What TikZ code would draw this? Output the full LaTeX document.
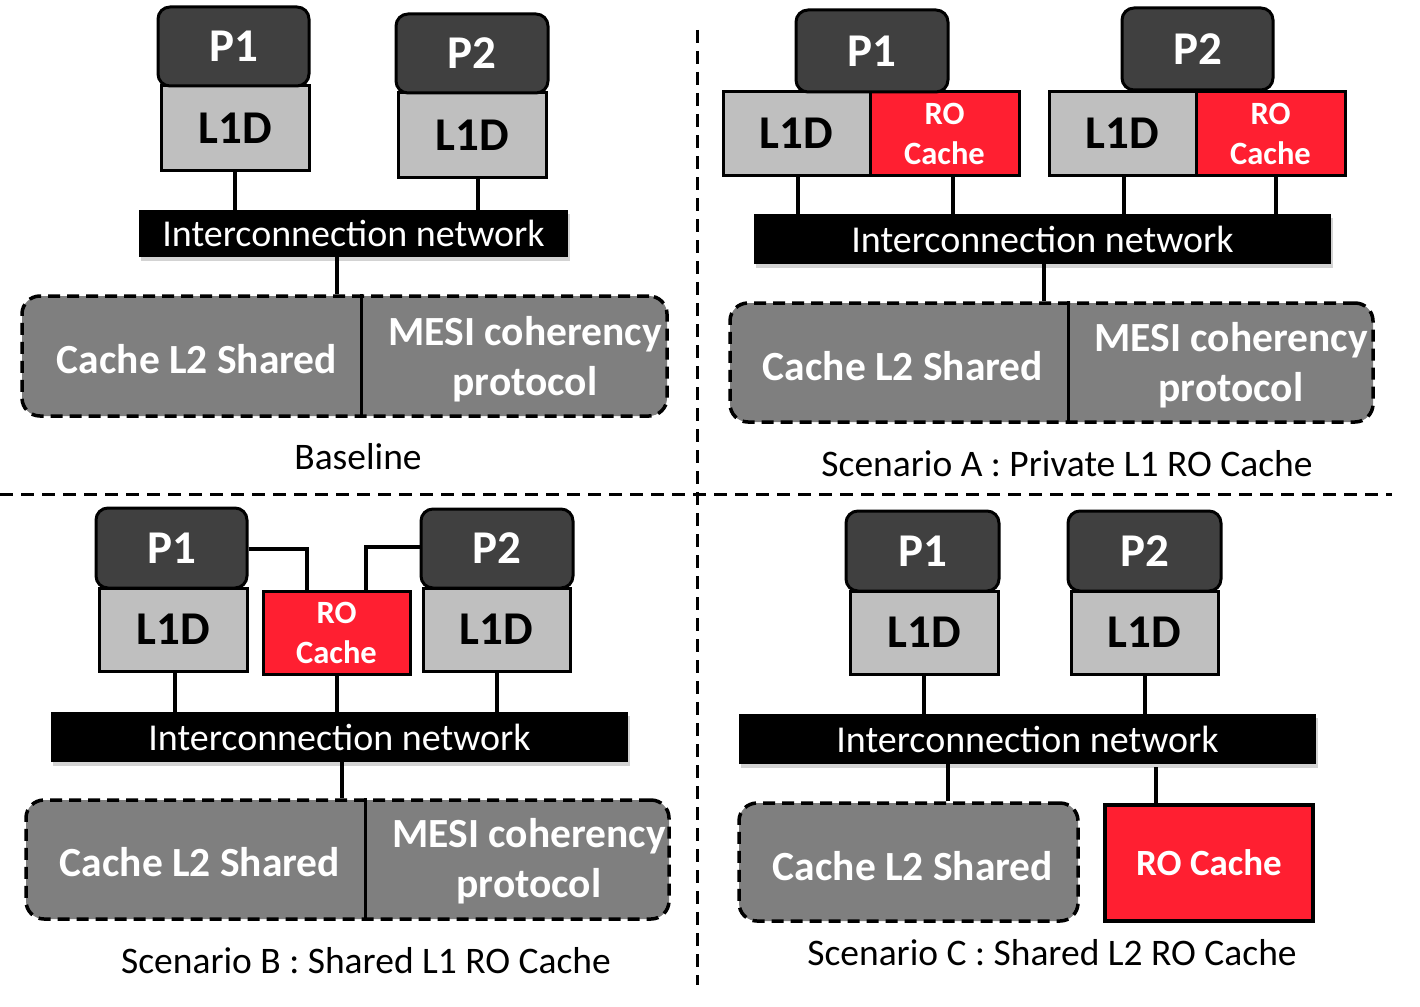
\documentclass[tikz,border=0pt]{standalone}
\usepackage{fontspec}
\setmainfont{Carlito}
\usetikzlibrary{shadows}
\definecolor{pdark}{HTML}{404040}
\definecolor{lgray}{HTML}{BFBFBF}
\definecolor{mgray}{HTML}{7F7F7F}
\definecolor{rored}{HTML}{FF1F31}
\tikzset{
  pbox/.style={draw=black, line width=3pt, fill=pdark, rounded corners=12pt, inner sep=0pt,
    text=white, font=\fontsize{47}{50}\selectfont\bfseries},
  lbox/.style={draw=black, line width=3pt, fill=lgray, inner sep=0pt,
    text=black, font=\fontsize{47}{50}\selectfont\bfseries},
  robox/.style={draw=black, line width=3pt, fill=rored, inner sep=0pt, align=center,
    text=white, font=\fontsize{32.5}{40}\selectfont\bfseries},
  netbox/.style={fill=black, inner sep=0pt, text=white,
    font=\fontsize{38}{40}\selectfont,
    drop shadow={shadow xshift=2pt, shadow yshift=-4pt, opacity=0.35, fill=gray}},
  l2box/.style={draw=black, line width=3.5pt, dash pattern=on 12pt off 7pt, fill=mgray,
    rounded corners=18pt, inner sep=0pt},
  l2text/.style={inner sep=0pt, text=white, align=center,
    font=\fontsize{41.5}{50}\selectfont\bfseries},
  caption/.style={inner sep=0pt, text=black, font=\fontsize{37.5}{40}\selectfont},
  conn/.style={line width=4pt, draw=black},
  divline/.style={line width=3pt, draw=black},
  quad/.style={line width=3pt, draw=black, dash pattern=on 13pt off 8pt}
}
\begin{document}
\begin{tikzpicture}[x=1pt,y=-1pt]
\useasboundingbox (0,0) rectangle (1420,1006);

% quadrant dividers
\coordinate (qt) at (697,30);
\coordinate (qb) at (697,985);
\coordinate (ql) at (0,494);
\coordinate (qr) at (1392,494);
\draw[quad] (qt) -- (qb);
\draw[quad] (ql) -- (qr);

% ================= Baseline =================
\node[lbox, minimum width=148, minimum height=84] (b_l1a) at (235,128) {L1D};
\node[pbox, minimum width=151, minimum height=79] (b_p1) at (233.5,46.5) {P1};
\node[lbox, minimum width=148, minimum height=84] (b_l1b) at (472,135) {L1D};
\node[pbox, minimum width=152, minimum height=79] (b_p2) at (472,53.5) {P2};
\node[netbox, minimum width=429, minimum height=47] (b_net) at (353.5,233.5) {Interconnection network};
\node[l2box, minimum width=645, minimum height=120] (b_l2) at (344.5,356) {};
\coordinate (b_d) at (361,0);
\draw[divline] (b_l2.north -| b_d) -- (b_l2.south -| b_d);
\node[l2text] (b_l2t) at (197,359) {Cache L2 Shared};
\node[l2text] (b_mesi) at (525,359) {MESI coherency\\protocol};
\node[caption] (b_cap) at (358,457) {Baseline};
\draw[conn] (b_l1a.south) -- (b_l1a.south |- b_net.north);
\draw[conn] ([xshift=6pt]b_l1b.south) -- ([xshift=6pt]b_l1b.south |- b_net.north);
\coordinate (b_c) at (337,0);
\draw[conn] (b_net.south -| b_c) -- (b_l2.north -| b_c);

% ================= Scenario A =================
\node[lbox, minimum width=147, minimum height=83] (a_l1a) at (796.5,133.5) {L1D};
\node[robox, minimum width=149, minimum height=83] (a_roa) at (944.5,133.5) {RO\\Cache};
\node[pbox, minimum width=152, minimum height=82] (a_p1) at (872,51) {P1};
\node[lbox, minimum width=147, minimum height=83] (a_l1b) at (1122.5,133.5) {L1D};
\node[robox, minimum width=149, minimum height=83] (a_rob) at (1270.5,133.5) {RO\\Cache};
\node[pbox, minimum width=151, minimum height=82] (a_p2) at (1197.5,49) {P2};
\node[netbox, minimum width=577, minimum height=50] (a_net) at (1042.5,239) {Interconnection network};
\node[l2box, minimum width=643, minimum height=119] (a_l2) at (1051.5,362.5) {};
\coordinate (a_d) at (1068,0);
\draw[divline] (a_l2.north -| a_d) -- (a_l2.south -| a_d);
\node[l2text] (a_l2t) at (903,366) {Cache L2 Shared};
\node[l2text] (a_mesi) at (1231,365) {MESI coherency\\protocol};
\node[caption] (a_cap) at (1067,464) {Scenario A : Private L1 RO Cache};
\draw[conn] ([xshift=1.5pt]a_l1a.south) -- ([xshift=1.5pt]a_l1a.south |- a_net.north);
\draw[conn] ([xshift=8.5pt]a_roa.south) -- ([xshift=8.5pt]a_roa.south |- a_net.north);
\draw[conn] ([xshift=1.5pt]a_l1b.south) -- ([xshift=1.5pt]a_l1b.south |- a_net.north);
\draw[conn] ([xshift=5.5pt]a_rob.south) -- ([xshift=5.5pt]a_rob.south |- a_net.north);
\coordinate (a_c) at (1044,0);
\draw[conn] (a_net.south -| a_c) -- (a_l2.north -| a_c);

% ================= Scenario B =================
\node[lbox, minimum width=148, minimum height=83] (c_l1a) at (173,629.5) {L1D};
\node[pbox, minimum width=151, minimum height=80] (c_p1) at (171.5,548) {P1};
\node[robox, minimum width=147, minimum height=83] (c_ro) at (336.5,632.5) {RO\\Cache};
\node[lbox, minimum width=147, minimum height=83] (c_l1b) at (496.5,629.5) {L1D};
\node[pbox, minimum width=152, minimum height=79] (c_p2) at (497,548.5) {P2};
\coordinate (c_h1) at (307,549);
\coordinate (c_h2) at (366,547);
\draw[conn] (c_p1.east |- c_h1) -- (c_h1) -- (c_h1 |- c_ro.north);
\draw[conn] (c_p2.west |- c_h2) -- (c_h2) -- (c_h2 |- c_ro.north);
\node[netbox, minimum width=577, minimum height=50] (c_net) at (339.5,737) {Interconnection network};
\node[l2box, minimum width=643, minimum height=119] (c_l2) at (347.5,859.5) {};
\coordinate (c_d) at (365,0);
\draw[divline] (c_l2.north -| c_d) -- (c_l2.south -| c_d);
\node[l2text] (c_l2t) at (200,862) {Cache L2 Shared};
\node[l2text] (c_mesi) at (529,861) {MESI coherency\\protocol};
\node[caption] (c_cap) at (366,961) {Scenario B : Shared L1 RO Cache};
\draw[conn] ([xshift=2pt]c_l1a.south) -- ([xshift=2pt]c_l1a.south |- c_net.north);
\draw[conn] (c_ro.south) -- (c_ro.south |- c_net.north);
\draw[conn] (c_l1b.south) -- (c_l1b.south |- c_net.north);
\coordinate (c_c) at (342,0);
\draw[conn] (c_net.south -| c_c) -- (c_l2.north -| c_c);

% ================= Scenario C =================
\node[lbox, minimum width=148, minimum height=83] (d_l1a) at (924,632.5) {L1D};
\node[pbox, minimum width=153, minimum height=80] (d_p1) at (922.5,551) {P1};
\node[lbox, minimum width=147, minimum height=83] (d_l1b) at (1144.5,632.5) {L1D};
\node[pbox, minimum width=153, minimum height=80] (d_p2) at (1144.5,551) {P2};
\node[netbox, minimum width=577, minimum height=50] (d_net) at (1027.5,739) {Interconnection network};
\node[l2box, minimum width=339, minimum height=118] (d_l2) at (908.5,862) {};
\node[l2text] (d_l2t) at (913,866) {Cache L2 Shared};
\node[draw=black, line width=4pt, fill=rored, inner sep=0pt, text=white,
  font=\fontsize{37}{40}\selectfont\bfseries, minimum width=208, minimum height=116] (d_ro) at (1209,863) {RO Cache};
\node[caption] (d_cap) at (1052,953) {Scenario C : Shared L2 RO Cache};
\draw[conn] (d_l1a.south) -- (d_l1a.south |- d_net.north);
\draw[conn] (d_l1b.south) -- (d_l1b.south |- d_net.north);
\coordinate (d_c1) at (948,0);
\coordinate (d_c2) at (1156,0);
\draw[conn] (d_net.south -| d_c1) -- (d_l2.north -| d_c1);
\draw[conn] ([yshift=-3pt]d_net.south -| d_c2) -- (d_ro.north -| d_c2);
\end{tikzpicture}
\end{document}
